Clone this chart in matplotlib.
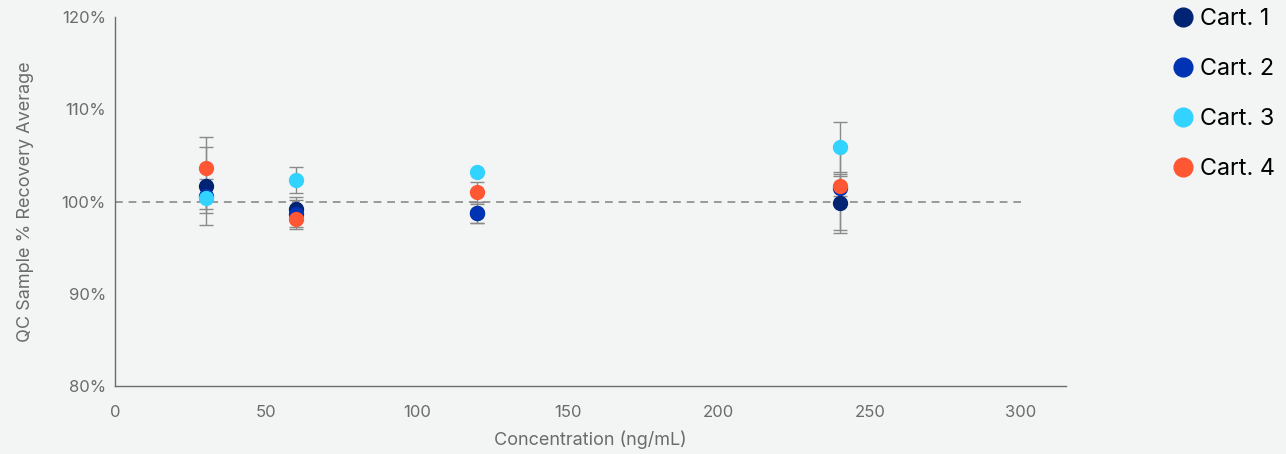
import matplotlib.pyplot as plt
import numpy as np

plt.rcParams['font.family'] = ['Inter', 'DejaVu Sans']

conc = [30, 60, 120, 240]
cart1 = [101.7, 99.2, 98.7, 99.8]
cart2 = [100.6, 98.6, 98.8, 101.5]
cart3 = [100.4, 102.3, 103.2, 105.9]
cart4 = [103.6, 98.1, 101.0, 101.7]
err1 = [4.2, 1.3, 1.0, 3.2]
err2 = [1.8, 1.6, 1.1, 4.6]
err3 = [1.2, 1.4, 0.0, 2.7]
err4 = [3.4, 0.9, 1.1, 1.1]

labels = ['Cart. 1', 'Cart. 2', 'Cart. 3', 'Cart. 4']
colors = ['#002373', '#0033b3', '#33d3ff', '#ff5733']
series = [cart1, cart2, cart3, cart4]
errs = [err1, err2, err3, err4]

bg = '#f3f5f4'
fig = plt.figure(figsize=(12.86, 4.54), dpi=100, facecolor=bg)
ax = fig.add_axes([115/1286, 1-386/454, (1066-115)/1286, (386-17)/454])
ax.set_facecolor(bg)

ax.plot([0, 300], [100, 100], color='#999999', linewidth=1.4, linestyle=(0, (4, 3)), zorder=1)

# error bars first so every marker sits on top
for vals, e in zip(series, errs):
    ax.errorbar(conc, vals, yerr=e, fmt='none', ecolor='#8a8a8a',
                elinewidth=1, capsize=4.7, capthick=1, zorder=2)
for vals, c, lab in zip(series, colors, labels):
    ax.plot(conc, vals, 'o', color=c, markersize=10, label=lab, zorder=3)

ax.set_xlim(0, 315)
ax.set_ylim(80, 120)
ax.set_xticks([0, 50, 100, 150, 200, 250, 300])
ax.set_yticks([80, 90, 100, 110, 120])
ax.set_yticklabels([f'{v}%' for v in [80, 90, 100, 110, 120]])
ax.tick_params(length=0, labelsize=12, colors='#6b6b6b')
ax.tick_params(axis='x', pad=14)
ax.tick_params(axis='y', pad=6.5)
for s in ['top', 'right']:
    ax.spines[s].set_visible(False)
for s in ['left', 'bottom']:
    ax.spines[s].set_color('#6b6b6b')
    ax.spines[s].set_linewidth(1)

ax.set_xlabel('Concentration (ng/mL)', fontsize=13, color='#6b6b6b', labelpad=7)
ax.set_ylabel('QC Sample % Recovery Average', fontsize=13, color='#6b6b6b', labelpad=20)

fig.legend(loc='upper left', bbox_to_anchor=(1170/1286, 0.983), frameon=False,
           fontsize=16.8, labelspacing=1.2, handletextpad=0.2, markerscale=1.35,
           handlelength=1.1, borderpad=0, borderaxespad=0)

fig.savefig('out.png', dpi=100, facecolor=bg)
